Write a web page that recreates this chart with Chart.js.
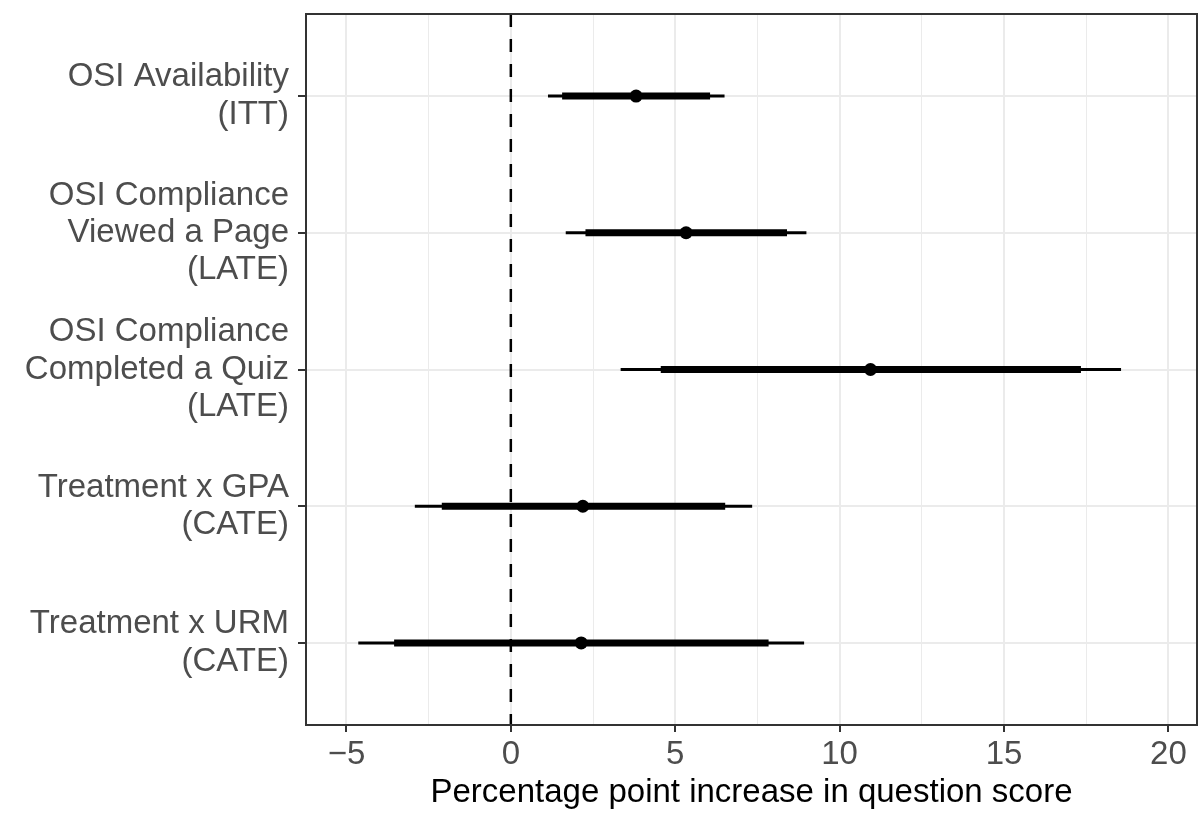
<!DOCTYPE html>
<html>
<head>
<meta charset="utf-8">
<script src="https://cdn.jsdelivr.net/npm/chart.js@4"></script>
<style>
  body { margin: 0; background: #fff; }
</style>
</head>
<body>
<canvas id="myChart" width="1198" height="813"></canvas>
<script>

const categories = [
    ["OSI Availability", "(ITT)"],
    ["OSI Compliance", "Viewed a Page", "(LATE)"],
    ["OSI Compliance", "Completed a Quiz", "(LATE)"],
    ["Treatment x GPA", "(CATE)"],
    ["Treatment x URM", "(CATE)"]
]

// point estimates and the two intervals (outer thin, inner thick)
const estimates = [3.81, 5.33, 10.94, 2.19, 2.14]
const outerLow = [1.13, 1.67, 3.34, -2.92, -4.64]
const outerHigh = [6.50, 8.99, 18.56, 7.34, 8.92]
const innerLow = [1.56, 2.27, 4.56, -2.10, -3.55]
const innerHigh = [6.06, 8.40, 17.34, 6.52, 7.84]

const xTicks = [-5, -2.5, 0, 2.5, 5, 7.5, 10, 12.5, 15, 17.5, 20]
const refLine = 0
const xTitle = "Percentage point increase in question score"

const font = "'Liberation Sans', Arial, sans-serif"
const fontSize = 33

const datasets = []

// dashed reference line at zero
datasets.push({
    data: [{ x: refLine, y: 0.4 }, { x: refLine, y: 5.6 }],
    showLine: true,
    borderColor: '#000',
    borderWidth: 2.5,
    borderDash: [13, 12],
    pointRadius: 0
})

categories.forEach((c, i) => {
    datasets.push({
        data: [{ x: outerLow[i], y: i + 1 }, { x: outerHigh[i], y: i + 1 }],
        showLine: true,
        borderColor: '#000',
        borderWidth: 3,
        pointRadius: 0
    })
    datasets.push({
        data: [{ x: innerLow[i], y: i + 1 }, { x: innerHigh[i], y: i + 1 }],
        showLine: true,
        borderColor: '#000',
        borderWidth: 7,
        pointRadius: 0
    })
})

datasets.push({
    data: estimates.map((v, i) => ({ x: v, y: i + 1 })),
    backgroundColor: '#000',
    borderColor: '#000',
    pointRadius: 6.5,
    borderWidth: 0
})

const panelBorder = {
    id: 'panelBorder',
    afterDraw(chart) {
        const { ctx, chartArea: a } = chart
        ctx.save()
        ctx.strokeStyle = '#333333'
        ctx.lineWidth = 2
        ctx.strokeRect(a.left, a.top, a.right - a.left, a.bottom - a.top)
        ctx.restore()
    }
}

const config = {
    type: 'scatter',
    data: { datasets },
    options: {
        responsive: false,
        animation: false,
        layout: { autoPadding: false, padding: { top: 14, right: 1, left: 0, bottom: 0 } },
        plugins: {
            legend: { display: false },
            tooltip: { enabled: false }
        },
        scales: {
            x: {
                type: 'linear',
                min: -6.23,
                max: 20.87,
                afterBuildTicks: s => { s.ticks = xTicks.map(v => ({ value: v })) },
                afterFit: s => {
                    s.height = 88
                    s.paddingLeft = 0
                    s.paddingRight = 0
                },
                border: { display: false },
                grid: {
                    color: '#EBEBEB',
                    lineWidth: c => (c.tick && c.tick.value % 5 === 0) ? 2 : 1,
                    tickColor: c => (c.tick && c.tick.value % 5 === 0) ? '#333333' : 'rgba(0,0,0,0)',
                    tickWidth: 2,
                    tickLength: 7
                },
                ticks: {
                    autoSkip: false,
                    maxRotation: 0,
                    padding: 3,
                    color: '#4D4D4D',
                    font: { family: font, size: fontSize },
                    callback: v => v % 5 === 0 ? (v < 0 ? '\u2212' + Math.abs(v) : String(v)) : ''
                },
                title: {
                    display: true,
                    text: xTitle,
                    color: '#000',
                    padding: { top: 0, bottom: 0 },
                    font: { family: font, size: fontSize }
                }
            },
            y: {
                type: 'linear',
                reverse: true,
                min: 0.4,
                max: 5.6,
                afterBuildTicks: s => { s.ticks = categories.map((c, i) => ({ value: i + 1 })) },
                afterFit: s => {
                    s.width = 306
                    s.paddingTop = 0
                    s.paddingBottom = 0
                },
                border: { display: false },
                grid: {
                    color: '#EBEBEB',
                    lineWidth: 2,
                    tickColor: '#333333',
                    tickWidth: 2,
                    tickLength: 8
                },
                ticks: {
                    autoSkip: false,
                    padding: 9,
                    color: '#4D4D4D',
                    font: { family: font, size: fontSize, lineHeight: 1.13 },
                    callback: v => categories[v - 1]
                }
            }
        }
    },
    plugins: [panelBorder]
};

const myChart = new Chart(
    document.getElementById('myChart'),
    config
);
</script>
</body>
</html>
